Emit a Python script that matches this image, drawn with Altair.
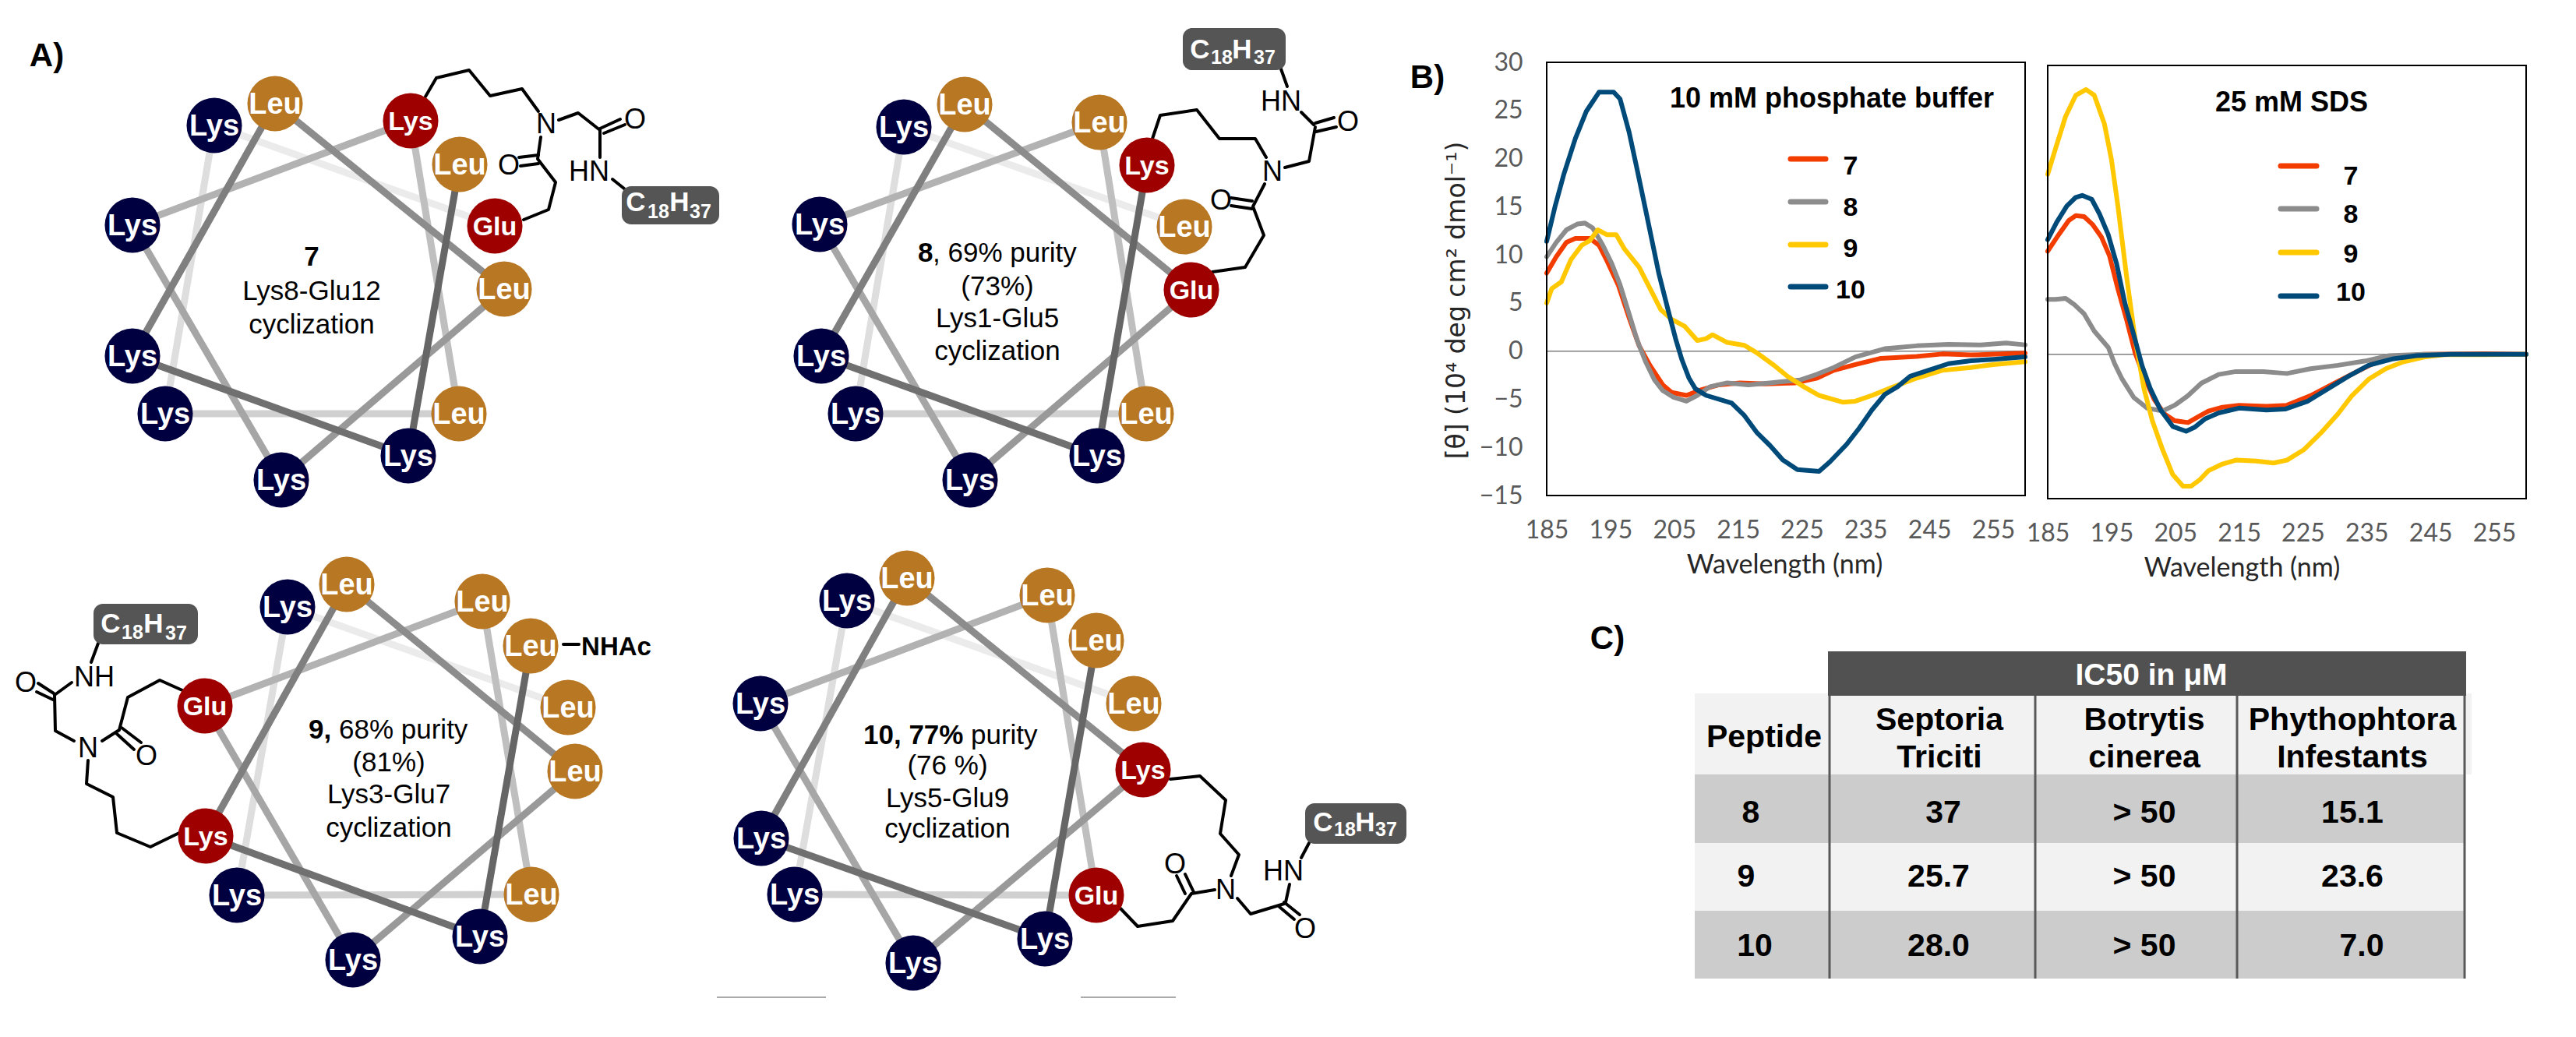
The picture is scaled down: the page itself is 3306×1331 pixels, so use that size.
import altair as alt
import pandas as pd

# ---------- helical wheels: residue centre coordinates in figure units, residue 1..12
W7_X = [590, 524, 170, 353, 647, 361, 170, 527, 589, 212, 275, 635]
W7_Y = [211, 585, 457, 133, 371, 616, 289, 155, 531, 531, 161, 290]
W8_X = [1472, 1408, 1054, 1238, 1529, 1245, 1052, 1411, 1471, 1098, 1160, 1520]
W8_Y = [212, 585, 457, 134, 372, 616, 288, 157, 531, 531, 163, 291]
W9_X = [681, 616, 264, 445, 738, 453, 263, 619, 682, 304, 369, 729]
W9_Y = [829, 1202, 1073, 750, 990, 1232, 906, 772, 1148, 1149, 779, 908]
W10_X = [1407, 1341, 977, 1164, 1467, 1172, 976, 1344, 1407, 1020, 1087, 1455]
W10_Y = [822, 1205, 1076, 742, 988, 1236, 903, 764, 1149, 1148, 771, 903]
BASE_SEQ = ["Leu", "Lys", "Lys", "Leu", "Leu", "Lys", "Lys", "Leu", "Leu", "Lys", "Lys", "Leu"]
WHEELS = [
    (W7_X, W7_Y, {8: "Lys", 12: "Glu"}),
    (W8_X, W8_Y, {1: "Lys", 5: "Glu"}),
    (W9_X, W9_Y, {3: "Lys", 7: "Glu"}),
    (W10_X, W10_Y, {5: "Lys", 9: "Glu"}),
]
SEG_GREYS = ["#666666", "#707070", "#7f7f7f", "#8c8c8c", "#999999", "#a6a6a6",
             "#b2b2b2", "#bfbfbf", "#d0d0d0", "#dedede", "#ebebeb"]

# ---------- chemical bonds (polylines)
BONDS = [
    # 7
    [(546,124),(560,100),(602,90),(629,123),(670,114),(691,143)],
    [(717,154),(742,145),(770,167)],
    [(770,165),(796,153)], [(775,171),(802,160)],
    [(770,167),(770,202)],
    [(786,230),(801,242)],
    [(694,176),(690,204),(713,234),(704,269),(672,282)],
    [(666,202),(691,199)], [(668,213),(691,210)],
    # 8
    [(1479,178),(1489,148),(1536,141),(1565,178),(1611,178),(1625,202)],
    [(1649,215),(1680,207),(1688,163)],
    [(1688,158),(1712,151)], [(1689,169),(1715,163)],
    [(1686,160),(1670,144)],
    [(1652,111),(1642,83)],
    [(1623,236),(1608,265),(1622,302),(1598,343),(1556,349)],
    [(1580,254),(1607,258)], [(1580,264),(1607,268)],
    # 9
    [(127,823),(117,850)],
    [(92,876),(70,892),(71,938),(95,951)],
    [(69,890),(49,877)], [(68,898),(47,888)],
    [(131,951),(153,937),(164,895),(205,873),(234,886)],
    [(156,934),(181,953)], [(150,942),(172,962)],
    [(113,976),(111,1006),(145,1023),(150,1069),(193,1087),(230,1069)],
    [(723,827),(743,827)],
    # 10
    [(1502,1000),(1540,996),(1573,1027),(1566,1070),(1590,1097),(1580,1124)],
    [(1559,1142),(1529,1147),(1505,1182),(1460,1189),(1438,1166)],
    [(1521,1147),(1510,1124)], [(1532,1145),(1521,1122)],
    [(1588,1153),(1605,1173),(1648,1160)],
    [(1648,1158),(1668,1174)], [(1642,1164),(1661,1180)],
    [(1650,1158),(1655,1135)],
    [(1670,1101),(1680,1082)],
]
ATOMS = [
    (701,158,"N"),(815,152,"O"),(756,219,"HN"),(653,211,"O"),
    (1633,219,"N"),(1730,155,"O"),(1644,129,"HN"),(1567,256,"O"),
    (121,868,"NH"),(33,875,"O"),(113,959,"N"),(188,969,"O"),
    (1573,1141,"N"),(1508,1108,"O"),(1675,1191,"O"),(1647,1117,"HN"),
]
C18_BOXES = [(798,923,239,288),(1518,1650,36,90),(120,254,775,827),(1675,1805,1031,1083)]
C18_MAIN = [(816,258,"C"),(872,258,"H"),(1540,62,"C"),(1594,62,"H"),
            (142,799,"C"),(197,799,"H"),(1698,1054,"C"),(1752,1054,"H")]
C18_SUB = [(845,270,"18"),(899,270,"37"),(1568,72,"18"),(1623,72,"37"),
           (170,810,"18"),(226,811,"37"),(1726,1063,"18"),(1779,1063,"37")]

# ---------- text
CENTER_REG = [
    (400,372,"Lys8-Glu12"),(400,415,"cyclization"),
    (1280,366,"(73%)"),(1280,407,"Lys1-Glu5"),(1280,449,"cyclization"),
    (499,977,"(81%)"),(499,1018,"Lys3-Glu7"),(499,1061,"cyclization"),
    (1216,981,"(76 %)"),(1216,1023,"Lys5-Glu9"),(1216,1062,"cyclization"),
]
CENTER_BOLD = [(400,328,"7")]
LEFT_BOLD = [(1178,323,"8"),(396,935,"9,"),(1108,942,"10, 77%")]
LEFT_REG = [(1197,323,", 69% purity"),(435,935,"68% purity"),(1246,942,"purity")]
PANEL_LABELS = [(60,70,"A)"),(1832,98,"B)"),(2063,818,"C)")]
GREY_RULES = [(920,1060,1280),(1387,1509,1280)]

# ---------- CD spectra, panel 1
P1_B_W = [185,186.3,187.7,189.5,191.2,193.2,195.5,196.5,197.9,199.2,200.5,202.6,203.9,205.2,206.2,207.3,208.3,210,214,216,218,220,222,224.3,227.7,229.4,232,234,236,238,240,242,244.8,248,251.5,255,260]
P1_B_V = [11.4,15,18.4,22.1,24.9,26.9,26.9,26.2,22.8,18.8,14.7,8,4.6,1.3,-0.9,-2.8,-3.9,-4.6,-5.4,-6.7,-8.5,-9.8,-11.3,-12.3,-12.5,-11.5,-9.7,-8,-6.1,-4.5,-3.7,-2.6,-2,-1.3,-1,-0.85,-0.6]
P1_G_W = [185,186.5,188.1,189.8,191,192.2,193.8,195.2,196.5,197.9,199.2,200.5,201.9,203.2,204.9,206.9,208.6,210.6,213.3,216.6,220,224.7,227.4,230,233.4,238,243,248,253,257,260]
P1_G_V = [9.8,11.3,12.6,13.2,13.3,12.8,11,9.1,6.9,3.9,1.1,-1.1,-3,-4.1,-4.8,-5.2,-4.6,-3.7,-3.3,-3.5,-3.3,-3,-2.4,-1.7,-0.6,0.25,0.55,0.7,0.65,0.85,0.65]
P1_R_W = [185,186.5,188.1,189.5,191.8,193.2,194.5,196.2,197.9,199.5,201.2,203.2,204.6,206.9,209.3,212,215.3,219.3,224,227.4,230,233.4,237.4,243,247,251.5,260]
P1_R_V = [8.1,9.8,11.3,11.7,11.7,11,9.3,6.9,3.5,0.55,-1.5,-3.5,-4.3,-4.6,-4,-3.5,-3.3,-3.4,-3.3,-2.8,-2,-1.4,-0.75,-0.55,-0.3,-0.4,-0.2]
P1_Y_W = [185,185.8,187.3,188.8,190.5,191.8,193,194.4,195.9,197.2,199.5,201.2,202.9,204.6,206.6,208.6,210,211,213.3,216,218,220.7,222.7,225.3,227.7,231.4,233.4,236,239.4,243,247,251.5,255,260]
P1_Y_V = [5,6.5,7.2,9.5,11,11.5,12.6,12.1,12.1,10.6,8.7,6.5,4.3,3.3,2.6,1.1,1.3,1.7,0.9,0.6,-0.2,-1.5,-2.6,-3.7,-4.6,-5.3,-5.2,-4.6,-3.7,-2.8,-2,-1.7,-1.4,-1.1]
# ---------- CD spectra, panel 2
P2_Y_W = [185,186.2,187.8,189.4,191,192.3,193.9,195,196,197.4,198.7,200.1,201.4,203,204.6,206.2,207.5,208.9,210.2,212.4,214.5,217.7,220.4,222.5,225.2,227.8,230.5,232.7,235.3,238,240.7,244,247.1,253.5,260]
P2_Y_V = [18.7,21.3,24.7,26.9,27.5,26.9,23.9,20.2,15.4,7.9,1.6,-3.6,-6.9,-9.9,-12.5,-13.7,-13.7,-13,-12.1,-11.4,-11,-11.1,-11.3,-11,-9.9,-8.2,-6.2,-4.3,-2.6,-1.5,-0.8,-0.3,-0.05,-0.05,0]
P2_R_W = [185,186.7,188.3,189.4,190.7,192,193.4,194.7,196,197.4,198.7,200.1,201.7,203.3,204.9,207,208.6,210.2,212.4,215,219.3,222.5,226.2,229.4,232.6,235.9,239.6,244,253.5,260]
P2_R_V = [10.7,12.4,13.9,14.4,14.3,13.5,12.2,10.2,6.8,3.5,0.15,-2.3,-4.7,-6.2,-6.9,-7.1,-6.5,-5.9,-5.5,-5.3,-5.4,-5.3,-4.3,-3.2,-2.1,-1,-0.3,0,0.05,0]
P2_B_W = [185,186.4,188,189.4,190.4,191.9,193.1,194.5,195.8,197.1,198.5,199.8,201.1,202.7,204.6,206.7,208,209.7,211.8,215,219.3,222.2,225.7,228.9,232.1,235.3,239,242.8,248.1,260]
P2_B_V = [11.9,13.7,15.4,16.3,16.5,16.1,14.6,12.4,9.4,5.3,2,-1.2,-3.6,-5.8,-7.5,-8,-7.6,-6.7,-6.1,-5.6,-5.8,-5.7,-4.9,-3.6,-2.3,-1.15,-0.5,-0.15,0,0]
P2_G_W = [185,186.2,187.8,189.1,190.7,192.3,194.5,195.5,196.6,198.5,200.6,203,204.9,207,209.1,211.8,214.5,218.8,222.5,226.2,230.5,234.8,238.5,243.9,260]
P2_G_V = [5.7,5.7,5.8,5.2,4.2,2.4,0.7,-1,-2.5,-4.5,-5.6,-5.9,-5.3,-4.3,-3,-2.1,-1.8,-1.8,-2,-1.5,-1.15,-0.7,-0.15,0,0]
SERIES = ["7", "8", "9", "10"]
SERIES_COLORS = ["#F33C00", "#8C8C8C", "#FFC800", "#004A7A"]

# ---------- table
TABLE_BANDS_LIGHT = [(2175,3172,890,994),(2175,3163,1082,1169)]
TABLE_BANDS_DARK = [(2175,3163,994,1082),(2175,3163,1169,1256)]
TABLE_HEAD = [(2346,3165,836,893)]
TABLE_VLINES = [2348,2612,2871,3163]
TABLE_TEXT = [
    (2264,945,"Peptide"),(2489,923,"Septoria"),(2489,971,"Triciti"),
    (2752,923,"Botrytis"),(2752,971,"cinerea"),(3019,923,"Phythophtora"),(3019,971,"Infestants"),
    (2247,1042,"8"),(2494,1042,"37"),(2752,1042,"> 50"),(3019,1042,"15.1"),
    (2241,1124,"9"),(2488,1124,"25.7"),(2752,1124,"> 50"),(3019,1124,"23.6"),
    (2252,1213,"10"),(2488,1213,"28.0"),(2752,1213,"> 50"),(3031,1213,"7.0"),
]

W, H = 3290, 1315
OFF = 8
PXX = alt.Scale(domain=[OFF, OFF + W], range=[0, W], nice=False, zero=False)
PXY = alt.Scale(domain=[OFF, OFF + H], range=[0, H], nice=False, zero=False)
SANS = "Liberation Sans"


def X(f="x"):
    return alt.X(f"{f}:Q", scale=PXX, axis=None)


def Y(f="y"):
    return alt.Y(f"{f}:Q", scale=PXY, axis=None)


def text_layer(rows, size, weight="normal", color="black", align="center", font=SANS):
    df = pd.DataFrame(rows, columns=["x", "y", "t"])
    return alt.Chart(df).mark_text(fontSize=size, fontWeight=weight, color=color, align=align, dy=2,
                                   baseline="middle", font=font).encode(X(), Y(), text="t:N")


def rect_layer(rows, color, radius=0):
    df = pd.DataFrame(rows, columns=["x", "x2", "y", "y2"])
    return alt.Chart(df).mark_rect(color=color, cornerRadius=radius).encode(
        X(), alt.X2("x2:Q"), Y(), alt.Y2("y2:Q"))


layers = []

# wheel segments
seg_rows, node_rows = [], []
for wi, (xs, ys, mods) in enumerate(WHEELS):
    for r in range(11, 0, -1):
        seg_rows.append(dict(x=xs[r-1], y=ys[r-1], x2=xs[r], y2=ys[r], seg=r))
    for r in range(12, 0, -1):
        red = r in mods
        node_rows.append(dict(x=xs[r-1], y=ys[r-1], t=mods.get(r, BASE_SEQ[r-1]),
                              kind="red" if red else BASE_SEQ[r-1]))
seg_df = pd.DataFrame(seg_rows)
layers.append(alt.Chart(seg_df).mark_rule(strokeWidth=9).encode(
    X(), alt.X2("x2:Q"), Y(), alt.Y2("y2:Q"),
    color=alt.Color("seg:O", legend=None,
                    scale=alt.Scale(domain=list(range(1, 12)), range=SEG_GREYS))))

# bonds
bond_rows = []
for b, line in enumerate(BONDS):
    for i, (x, y) in enumerate(line):
        bond_rows.append(dict(x=x, y=y, b=b, i=i))
layers.append(alt.Chart(pd.DataFrame(bond_rows)).mark_line(color="black", strokeWidth=4, strokeCap="round",
                                                            strokeJoin="round").encode(
    X(), Y(), detail="b:N", order="i:Q"))

node_df = pd.DataFrame(node_rows)
layers.append(alt.Chart(node_df).mark_circle(opacity=1).encode(
    X(), Y(),
    color=alt.Color("kind:N", legend=None,
                    scale=alt.Scale(domain=["Lys", "Leu", "red"], range=["#000040", "#B87722", "#9E0000"])),
    size=alt.Size("kind:N", legend=None,
                  scale=alt.Scale(domain=["Lys", "Leu", "red"], range=[5050, 5050, 4450]))))
layers.append(text_layer([(r["x"], r["y"], r["t"]) for r in node_rows if r["kind"] != "red"], 38, "bold", "white"))
layers.append(text_layer([(r["x"], r["y"], r["t"]) for r in node_rows if r["kind"] == "red"], 34, "bold", "white"))

layers.append(text_layer(ATOMS, 36))
layers.append(text_layer([(791, 829, "NHAc")], 33, "bold"))
layers.append(rect_layer(C18_BOXES, "#555555", 12))
layers.append(text_layer(C18_MAIN, 35, "bold", "white"))
layers.append(text_layer(C18_SUB, 25, "bold", "white"))

layers.append(text_layer(CENTER_REG, 35))
layers.append(text_layer(CENTER_BOLD, 35, "bold"))
layers.append(text_layer(LEFT_BOLD, 35, "bold", align="left"))
layers.append(text_layer(LEFT_REG, 35, align="left"))
layers.append(text_layer(PANEL_LABELS, 42, "bold"))

g_df = pd.DataFrame(GREY_RULES, columns=["x", "x2", "y"])
layers.append(alt.Chart(g_df).mark_rule(color="#aaaaaa", strokeWidth=2).encode(X(), alt.X2("x2:Q"), Y()))

# table
layers.append(rect_layer(TABLE_BANDS_LIGHT, "#F2F2F2"))
layers.append(rect_layer(TABLE_BANDS_DARK, "#CCCCCC"))
layers.append(rect_layer(TABLE_HEAD, "#515151"))
v_df = pd.DataFrame([dict(x=x, y=893, y2=1256) for x in TABLE_VLINES])
layers.append(alt.Chart(v_df).mark_rule(color="#595959", strokeWidth=3).encode(X(), Y(), alt.Y2("y2:Q")))
layers.append(text_layer(TABLE_TEXT, 41, "bold"))
layers.append(text_layer([(2761, 865, "IC50 in \u03bcM")], 39, "bold", "white"))


# CD panels
def panel(series, x0, x1, y_top, y_bot, title, title_xy, legend_x, legend_y, label_x, label_y, show_y, xtitle_x):
    xs = alt.Scale(domain=[185, 260], range=[x0 - OFF, x1 - OFF], nice=False, zero=False)
    ys = alt.Scale(domain=[-15, 30], range=[y_bot - OFF, y_top - OFF], nice=False, zero=False)
    rows = []
    for name, (w, v) in zip(SERIES, series):
        rows += [dict(w=a, v=b, s=name) for a, b in zip(w, v)]
    df = pd.DataFrame(rows)
    x_axis = alt.Axis(orient="bottom", offset=(y_bot - OFF) - H, values=list(range(185, 256, 10)),
                      ticks=False, domain=False, grid=False, labelFont="Lato", labelFontSize=32,
                      labelColor="#595959", labelPadding=29, title="Wavelength (nm)", titleFont="Lato",
                      titleFontSize=34, titleFontWeight="normal", titleColor="#262626", titlePadding=12,
                      labelFlush=False, labelOverlap=False, titleX=xtitle_x - OFF)
    if show_y:
        y_axis = alt.Axis(orient="left", offset=-(x0 - OFF), values=list(range(-15, 31, 5)),
                          ticks=False, domain=False, grid=False, labelFont="Lato", labelFontSize=32,
                          labelColor="#595959", labelPadding=31, labelFlush=False, labelOverlap=False,
                          title="[\u03b8] (10\u2074  deg cm\u00b2  dmol\u207b\u00b9)", titleFont="DejaVu Sans",
                          titleFontSize=33, titleFontWeight="normal", titleColor="#262626", titlePadding=12,
                          titleY=377)
    else:
        y_axis = None
    frame = alt.Chart(pd.DataFrame([dict(a=185, a2=260, b=-15, b2=30)])).mark_rect(
        fill="white", fillOpacity=0, stroke="black", strokeWidth=2).encode(
        alt.X("a:Q", scale=xs, axis=x_axis), alt.X2("a2:Q"),
        alt.Y("b:Q", scale=ys, axis=y_axis), alt.Y2("b2:Q"))
    zero = alt.Chart(pd.DataFrame([dict(a=185, a2=260, b=0)])).mark_rule(color="#7F7F7F", strokeWidth=1.5).encode(
        alt.X("a:Q", scale=xs, axis=None), alt.X2("a2:Q"), alt.Y("b:Q", scale=ys, axis=None))
    lines = alt.Chart(df).mark_line(strokeWidth=6, strokeJoin="round", strokeCap="round").encode(
        alt.X("w:Q", scale=xs, axis=None), alt.Y("v:Q", scale=ys, axis=None),
        color=alt.Color("s:N", legend=None, sort=SERIES, scale=alt.Scale(domain=SERIES, range=SERIES_COLORS)),
        order="w:Q")
    leg = pd.DataFrame([dict(x=legend_x[0], x2=legend_x[1], y=yy, s=s) for yy, s in zip(legend_y, SERIES)])
    leg_rules = alt.Chart(leg).mark_rule(strokeWidth=7, strokeCap="round").encode(
        X(), alt.X2("x2:Q"), Y(),
        color=alt.Color("s:N", legend=None, sort=SERIES, scale=alt.Scale(domain=SERIES, range=SERIES_COLORS)))
    leg_text = text_layer([(label_x, yy, s) for yy, s in zip(label_y, SERIES)], 34, "bold")
    ttl = text_layer([(title_xy[0], title_xy[1], title)], 36, "bold")
    return [zero, lines, frame, leg_rules, leg_text, ttl]


layers += panel([(P1_R_W, P1_R_V), (P1_G_W, P1_G_V), (P1_Y_W, P1_Y_V), (P1_B_W, P1_B_V)],
                1985, 2599, 80, 636, "10 mM phosphate buffer", (2351, 125),
                (2298, 2343), [204, 259, 314, 368], 2375, [212, 265, 318, 371], True, 2290)
layers += panel([(P2_R_W, P2_R_V), (P2_G_W, P2_G_V), (P2_Y_W, P2_Y_V), (P2_B_W, P2_B_V)],
                2628, 3242, 84, 640, "25 mM SDS", (2941, 130),
                (2927, 2973), [204 + 9, 268, 324, 380], 3017, [225, 274, 325, 374], False, 2877)

chart = alt.layer(*layers).resolve_scale(x="independent", y="independent", color="independent", size="independent").properties(
    width=W, height=H, padding=0, autosize=alt.AutoSizeParams(type="none"), background="white"
).configure_view(stroke=None)

chart.save("out.html", embed_options={"renderer": "svg", "actions": False})
